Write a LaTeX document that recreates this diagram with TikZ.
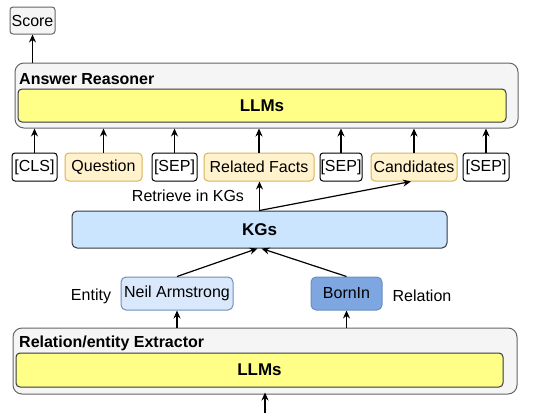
\documentclass[tikz,border=0pt]{standalone}
\usepackage{fontspec}
\setmainfont{Liberation Sans}
\usetikzlibrary{arrows.meta}
\definecolor{outerfill}{HTML}{F5F5F5}
\definecolor{outerline}{HTML}{666666}
\definecolor{llmfill}{HTML}{FFFF88}
\definecolor{darkline}{HTML}{36393D}
\definecolor{tokfill}{HTML}{FFF2CC}
\definecolor{tokline}{HTML}{D6B656}
\definecolor{kgfill}{HTML}{CCE5FF}
\definecolor{entfill}{HTML}{DAE8FC}
\definecolor{relfill}{HTML}{7EA6E0}
\definecolor{blueline}{HTML}{6C8EBF}
\begin{document}
\begin{tikzpicture}[x=1pt,y=-1pt,
	font=\fontsize{16}{19}\selectfont,
	every node/.style={inner sep=0pt},
	module/.style={rectangle,rounded corners=9pt,draw=outerline,fill=outerfill,line width=1pt},
	llm/.style={rectangle,rounded corners=4pt,draw=darkline,fill=llmfill,line width=1pt,font=\fontsize{17}{20}\selectfont\bfseries},
	sep/.style={rectangle,rounded corners=3pt,draw=black,fill=white,line width=1pt,minimum width=#1,minimum height=28pt},
	tok/.style={rectangle,rounded corners=4pt,draw=tokline,fill=tokfill,line width=1pt,minimum width=#1,minimum height=28pt},
	arr/.style={-{Stealth[length=8pt,width=7pt]},line width=1.2pt}]
	\useasboundingbox (0,0) rectangle (543,413);

	% output
	\node (score) at (32.5,20.5) [rectangle,rounded corners=3pt,draw=outerline,fill=outerfill,line width=1pt,minimum width=45pt,minimum height=27pt] {Score};

	% answer reasoner
	\node (reasoner) at (266.5,95.5) [module,minimum width=503pt,minimum height=65pt] {};
	\node (reasonertitle) at (19,79) [anchor=west,font=\fontsize{16}{19}\selectfont\bfseries] {Answer Reasoner};
	\node (llmtop) at (262,105.5) [llm,minimum width=488pt,minimum height=33pt] {LLMs};

	% input tokens
	\node (cls) at (34.5,167) [sep=45pt] {[CLS]};
	\node (question) at (103.5,167) [tok=77pt] {Question};
	\node (sepa) at (174.5,167) [sep=45pt] {[SEP]};
	\node (facts) at (259,167) [tok=110pt] {Related Facts};
	\node (sepb) at (341,167) [sep=42pt] {[SEP]};
	\node (cand) at (414,167) [tok=86pt] {Candidates};
	\node (sepc) at (486,167) [sep=46pt] {[SEP]};

	\node (retrieve) at (188,196) {Retrieve in KGs};

	% knowledge graphs
	\node (kgs) at (259.5,229.5) [rectangle,rounded corners=5pt,draw=darkline,fill=kgfill,line width=1pt,minimum width=375pt,minimum height=37pt,font=\fontsize{17}{20}\selectfont\bfseries] {KGs};

	% extracted entity and relation
	\node (entity) at (91,296) {Entity};
	\node (neil) at (177,293.5) [rectangle,rounded corners=5pt,draw=blueline,fill=entfill,line width=1pt,minimum width=112pt,minimum height=33pt] {Neil Armstrong};
	\node (born) at (346.5,293.5) [rectangle,rounded corners=5pt,draw=blueline,fill=relfill,line width=1pt,minimum width=71pt,minimum height=33pt] {BornIn};
	\node (relation) at (422,296) {Relation};

	% relation/entity extractor
	\node (extractor) at (265,361) [module,minimum width=504pt,minimum height=66pt] {};
	\node (extractortitle) at (19,343) [anchor=west,font=\fontsize{16}{19}\selectfont\bfseries] {Relation/entity Extractor};
	\node (llmbottom) at (259.5,370) [llm,minimum width=487pt,minimum height=34pt] {LLMs};
	\coordinate (input) at (265,413);

	% connectors
	\draw[arr] (input) -- ([yshift=2pt]extractor.south);
	\draw[arr] (neil |- extractor.north) -- (neil.south);
	\draw[arr] (born |- extractor.north) -- (born.south);
	\draw[arr] (neil.north) -- ([xshift=-2pt]kgs.south);
	\draw[arr] (born.north) -- ([xshift=2pt]kgs.south);
	\draw[arr] (kgs.north) -- (kgs.north |- facts.south);
	\draw[arr] (kgs.north) -- ([xshift=-3pt]cand.south);
	\foreach \t in {cls,question,sepa,facts,sepb,cand,sepc}
		\draw[arr] (\t.north) -- (\t |- reasoner.south);
	\draw[arr] (score |- reasoner.north) -- (score.south);
\end{tikzpicture}
\end{document}
